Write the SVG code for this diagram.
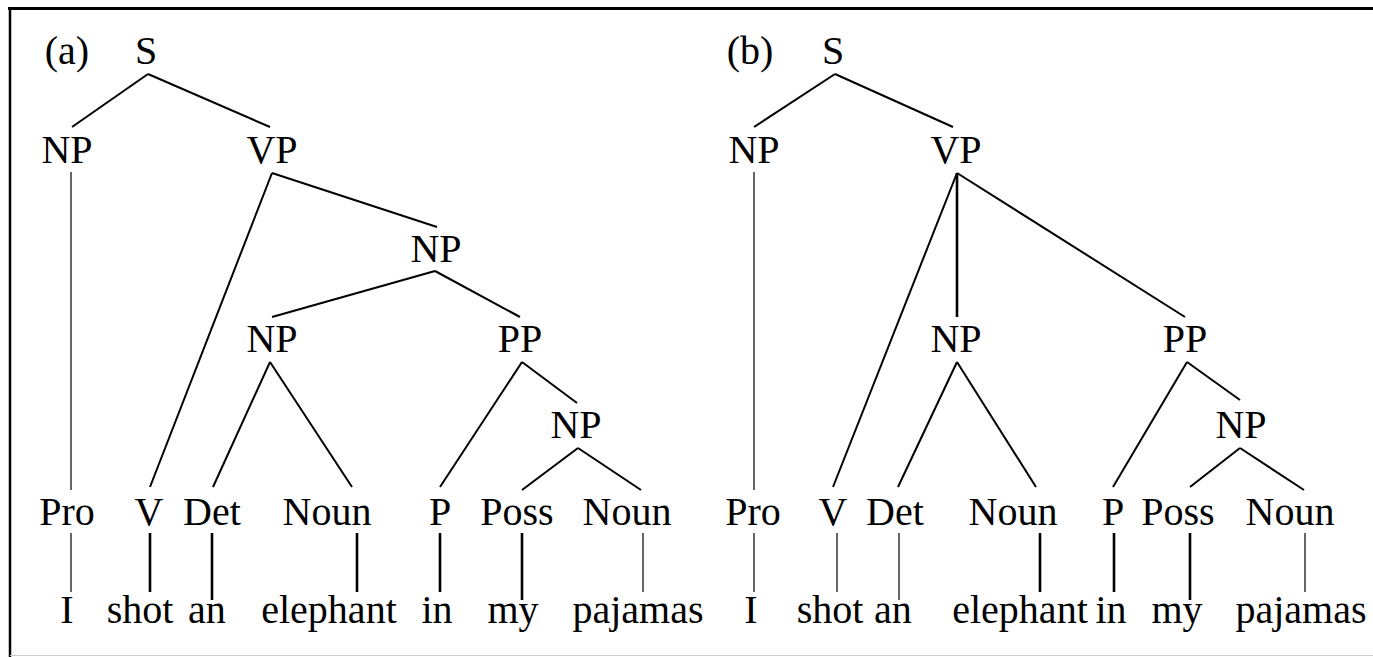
<svg xmlns="http://www.w3.org/2000/svg" width="1373" height="657" viewBox="0 0 1373 657">
<style>
text{font-family:"Liberation Serif","DejaVu Serif",serif;font-size:40px;fill:#000;text-anchor:middle}
.e{stroke:#000;stroke-width:2;fill:none}
.t{stroke:#000;stroke-width:1.2;fill:none}
.k{stroke:#000;stroke-width:2.6;fill:none}
</style>
<rect x="0" y="0" width="1373" height="657" fill="#fff"/>
<g id="frame">
<line x1="8" y1="8.5" x2="1373" y2="8.5" stroke="#000" stroke-width="3"/>
<line x1="10" y1="8" x2="10" y2="657" stroke="#000" stroke-width="2.5"/>
<line x1="10" y1="655.5" x2="1373" y2="655.5" stroke="#ccc" stroke-width="1"/>
</g>
<g id="connectors">
<!-- tree a -->
<line class="e" x1="148" y1="74" x2="72" y2="127"/>
<line class="e" x1="148" y1="74" x2="270" y2="127"/>
<line class="t" x1="71" y1="172" x2="71" y2="490"/>
<line class="e" x1="272" y1="173" x2="150" y2="487"/>
<line class="e" x1="272" y1="173" x2="437" y2="227"/>
<line class="e" x1="435" y1="271" x2="272" y2="317"/>
<line class="e" x1="435" y1="271" x2="520" y2="317"/>
<line class="e" x1="270" y1="362" x2="213" y2="487"/>
<line class="e" x1="270" y1="362" x2="352" y2="487"/>
<line class="e" x1="522" y1="362" x2="440" y2="487"/>
<line class="e" x1="522" y1="362" x2="577" y2="403"/>
<line class="e" x1="578" y1="448" x2="522" y2="490"/>
<line class="e" x1="578" y1="448" x2="641" y2="490"/>
<line class="t" x1="71" y1="533" x2="71" y2="592"/>
<line class="k" x1="150" y1="533" x2="150" y2="592"/>
<line class="k" x1="212" y1="533" x2="212" y2="600"/>
<line class="k" x1="357" y1="533" x2="357" y2="592"/>
<line class="k" x1="440" y1="533" x2="440" y2="592"/>
<line class="k" x1="522" y1="533" x2="522" y2="600"/>
<line class="t" x1="643" y1="533" x2="643" y2="592"/>
<!-- tree b -->
<line class="e" x1="835" y1="74" x2="754" y2="127"/>
<line class="e" x1="835" y1="74" x2="953" y2="127"/>
<line class="t" x1="754" y1="172" x2="754" y2="490"/>
<line class="e" x1="957" y1="173" x2="833" y2="487"/>
<line class="k" x1="957" y1="173" x2="957" y2="317"/>
<line class="e" x1="957" y1="173" x2="1185" y2="317"/>
<line class="e" x1="957" y1="362" x2="898" y2="487"/>
<line class="e" x1="957" y1="362" x2="1036" y2="487"/>
<line class="e" x1="1187" y1="362" x2="1113" y2="487"/>
<line class="e" x1="1187" y1="362" x2="1240" y2="400"/>
<line class="e" x1="1240" y1="448" x2="1190" y2="487"/>
<line class="e" x1="1240" y1="448" x2="1304" y2="490"/>
<line class="t" x1="754" y1="533" x2="754" y2="592"/>
<line class="t" x1="837" y1="533" x2="837" y2="592"/>
<line class="t" x1="899" y1="533" x2="899" y2="600"/>
<line class="k" x1="1040" y1="533" x2="1040" y2="592"/>
<line class="k" x1="1114" y1="533" x2="1114" y2="592"/>
<line class="k" x1="1190" y1="533" x2="1190" y2="600"/>
<line class="t" x1="1305" y1="533" x2="1305" y2="592"/>
</g>
<g id="label-a"><text x="67" y="64">(a)</text></g>
<g id="a-S"><text x="146" y="64">S</text></g>
<g id="a-NP1"><text x="67" y="163">NP</text></g>
<g id="a-VP"><text x="272" y="163">VP</text></g>
<g id="a-NP2"><text x="436" y="262">NP</text></g>
<g id="a-NP3"><text x="272" y="352">NP</text></g>
<g id="a-PP"><text x="520" y="352">PP</text></g>
<g id="a-NP4"><text x="576" y="438">NP</text></g>
<g id="a-Pro"><text x="67" y="525">Pro</text></g>
<g id="a-V"><text x="149" y="525">V</text></g>
<g id="a-Det"><text x="212" y="525">Det</text></g>
<g id="a-Noun1"><text x="327" y="525">Noun</text></g>
<g id="a-P"><text x="440" y="525">P</text></g>
<g id="a-Poss"><text x="517" y="525">Poss</text></g>
<g id="a-Noun2"><text x="627" y="525">Noun</text></g>
<g id="a-I"><text x="67" y="623">I</text></g>
<g id="a-shot"><text x="140" y="623">shot</text></g>
<g id="a-an"><text x="207" y="623">an</text></g>
<g id="a-elephant"><text x="329" y="623">elephant</text></g>
<g id="a-in"><text x="437" y="623">in</text></g>
<g id="a-my"><text x="513" y="623">my</text></g>
<g id="a-pajamas"><text x="638" y="623">pajamas</text></g>
<g id="label-b"><text x="750" y="64">(b)</text></g>
<g id="b-S"><text x="833" y="64">S</text></g>
<g id="b-NP1"><text x="754" y="163">NP</text></g>
<g id="b-VP"><text x="956" y="163">VP</text></g>
<g id="b-NP2"><text x="956" y="352">NP</text></g>
<g id="b-PP"><text x="1185" y="352">PP</text></g>
<g id="b-NP3"><text x="1241" y="438">NP</text></g>
<g id="b-Pro"><text x="753" y="525">Pro</text></g>
<g id="b-V"><text x="833" y="525">V</text></g>
<g id="b-Det"><text x="895" y="525">Det</text></g>
<g id="b-Noun1"><text x="1013" y="525">Noun</text></g>
<g id="b-P"><text x="1113" y="525">P</text></g>
<g id="b-Poss"><text x="1178" y="525">Poss</text></g>
<g id="b-Noun2"><text x="1290" y="525">Noun</text></g>
<g id="b-I"><text x="751" y="623">I</text></g>
<g id="b-shot"><text x="830" y="623">shot</text></g>
<g id="b-an"><text x="893" y="623">an</text></g>
<g id="b-elephant"><text x="1020" y="623">elephant</text></g>
<g id="b-in"><text x="1111" y="623">in</text></g>
<g id="b-my"><text x="1177" y="623">my</text></g>
<g id="b-pajamas"><text x="1301" y="623">pajamas</text></g>
</svg>
